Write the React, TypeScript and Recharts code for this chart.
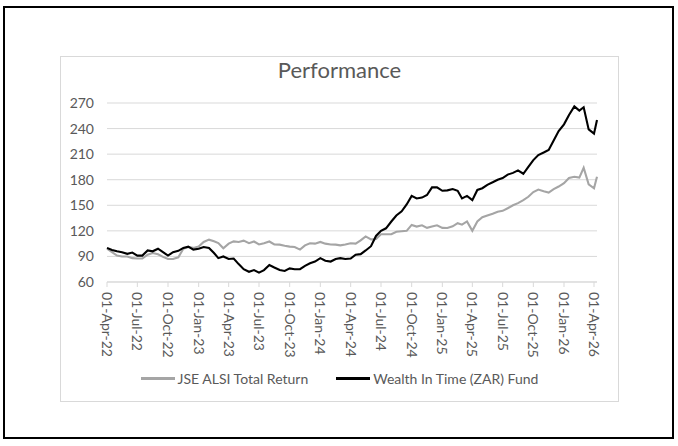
import React from "react"
import { LineChart, Line, XAxis, YAxis, CartesianGrid, Legend } from "recharts"

// semi-monthly observation dates, 01-Apr-22 .. 10-Apr-26
const dates: string[] = (() => {
  const out: string[] = []
  for (let m = 0; m < 48; m++) {
    const y = 2022 + Math.floor((3 + m) / 12)
    const mo = ((3 + m) % 12) + 1
    const mm = String(mo).padStart(2, "0")
    out.push(`${y}-${mm}-01`, `${y}-${mm}-16`)
  }
  out.push("2026-04-01", "2026-04-10")
  return out
})()

const fund = [
  100, 97.5, 96, 95, 93, 94.5, 91, 91, 97, 96,
  99, 95, 91, 95, 96.5, 100, 101.5, 98, 99, 101,
  100, 94, 88, 90, 87, 87.5, 81, 75, 72, 74,
  71, 74, 80, 77, 74, 73, 76, 75, 75, 79,
  82, 84, 88, 85, 84, 87, 88, 87, 87.5, 92,
  92.7, 97, 102, 114, 120, 123, 131, 138, 143, 151,
  161, 158, 159, 162, 171, 171, 167, 167.5, 169, 167,
  158, 161, 156, 168, 170, 174, 177, 180, 182, 186,
  188, 191, 187, 195, 203, 209, 212, 215, 226, 237,
  245, 256, 266, 261, 265, 239, 234, 250,
]

const alsi = [
  99, 95, 91, 90, 90, 88, 87.5, 87.5, 92, 94,
  92.5, 89.5, 87, 87, 89, 99, 101, 100, 101.5, 107,
  109.7, 107.7, 105.7, 99.5, 105, 107.7, 107, 108.5, 105.5, 107.5,
  104, 105.5, 107.5, 104, 103.8, 102.5, 101.5, 101, 98, 103,
  105.5, 105, 107, 105, 104, 103.8, 103, 104, 105.5, 105,
  108.8, 113.5, 110, 110.5, 116, 116, 116, 119, 119.5, 120,
  127, 125, 126.5, 123.5, 125, 126.5, 123.5, 123.3, 125.3, 129,
  127.3, 131, 120, 131, 136, 138, 140, 142.5, 143.5, 146.5,
  150, 152.5, 156, 160, 165.5, 168.5, 166.5, 165, 169, 172,
  176, 182, 183.5, 182.5, 194, 174.5, 170, 183.5,
]

const xTicks = [
  "2022-04-01", "2022-07-01", "2022-10-01", "2023-01-01", "2023-04-01",
  "2023-07-01", "2023-10-01", "2024-01-01", "2024-04-01", "2024-07-01",
  "2024-10-01", "2025-01-01", "2025-04-01", "2025-07-01", "2025-10-01",
  "2026-01-01", "2026-04-01",
]
const yTicks = [60, 90, 120, 150, 180, 210, 240, 270]

const series = [
  { key: "alsi", name: "JSE ALSI Total Return", color: "#A5A5A5" },
  { key: "fund", name: "Wealth In Time (ZAR) Fund", color: "#000000" },
]

const MONTHS = ["Jan", "Feb", "Mar", "Apr", "May", "Jun", "Jul", "Aug", "Sep", "Oct", "Nov", "Dec"]
const ts = (s: string) => Date.parse(s + "T00:00:00Z")
function fmtDate(v: number) {
  const d = new Date(v)
  return `${String(d.getUTCDate()).padStart(2, "0")}-${MONTHS[d.getUTCMonth()]}-${String(d.getUTCFullYear()).slice(2)}`
}

const data = dates.map((d, i) => ({ t: ts(d), fund: fund[i], alsi: alsi[i] }))

const FONT = "Lato, 'Open Sans', sans-serif"
const TXT = "#595959"
const GRID = "#D9D9D9"

const DateTick = (props: any) => {
  const { x, y, payload } = props
  return (
    <g transform={`translate(${x},${y})`}>
      <text transform="rotate(90)" x={0} y={0} dy="0.35em" textAnchor="start" fill={TXT} fontSize={14} fontFamily={FONT}>
        {fmtDate(payload.value)}
      </text>
    </g>
  )
}

const LegendBox = () => (
  <div style={{ display: "flex", justifyContent: "center", alignItems: "center", gap: 28, fontFamily: FONT, fontSize: 14, color: TXT }}>
    {series.map((s) => (
      <div key={s.key} style={{ display: "flex", alignItems: "center", gap: 3 }}>
        <span style={{ display: "inline-block", width: 34, height: 2.5, background: s.color }} />
        <span>{s.name}</span>
      </div>
    ))}
  </div>
)

export default function App() {
  return (
    <div style={{ position: "absolute", left: 0, top: 0, width: 678, height: 446, background: "#fff" }}>
      {/* outer frame */}
      <div style={{ position: "absolute", left: 3, top: 6, width: 671, height: 433, border: "2px solid #000", boxSizing: "border-box" }} />
      {/* chart area */}
      <div style={{ position: "absolute", left: 60, top: 56, width: 559, height: 346, border: `1px solid ${GRID}`, boxSizing: "border-box", background: "#fff" }}>
        <div style={{ position: "absolute", left: 0, top: 0, width: "100%", textAlign: "center", fontFamily: FONT, fontSize: 22, lineHeight: "26px", color: TXT }}>
          Performance
        </div>
        <LineChart width={557} height={344} data={data} margin={{ top: 46, right: 21, left: 0, bottom: 44 }} style={{ position: "absolute", left: 0, top: 0 }}>
          <CartesianGrid vertical={false} stroke={GRID} strokeWidth={1} />
          <XAxis
            dataKey="t"
            type="number"
            scale="time"
            domain={[ts("2022-04-01"), ts("2026-04-10")]}
            ticks={xTicks.map(ts)}
            interval={0}
            axisLine={{ stroke: GRID }}
            tickLine={{ stroke: GRID }}
            tickSize={5}
            tickMargin={5}
            height={75}
            tick={<DateTick />}
          />
          <YAxis
            domain={[60, 270]}
            ticks={yTicks}
            interval={0}
            axisLine={false}
            tickLine={false}
            tickSize={0}
            tickMargin={13}
            width={46}
            tick={{ fill: TXT, fontSize: 14, fontFamily: FONT }}
          />
          <Legend verticalAlign="middle" layout="horizontal" wrapperStyle={{ top: 313, left: 0, width: 557 }} content={() => <LegendBox />} />
          {series.map((s) => (
            <Line key={s.key} type="linear" dataKey={s.key} name={s.name} stroke={s.color} strokeWidth={2.1} dot={false} isAnimationActive={false} />
          ))}
        </LineChart>
      </div>
    </div>
  )
}
